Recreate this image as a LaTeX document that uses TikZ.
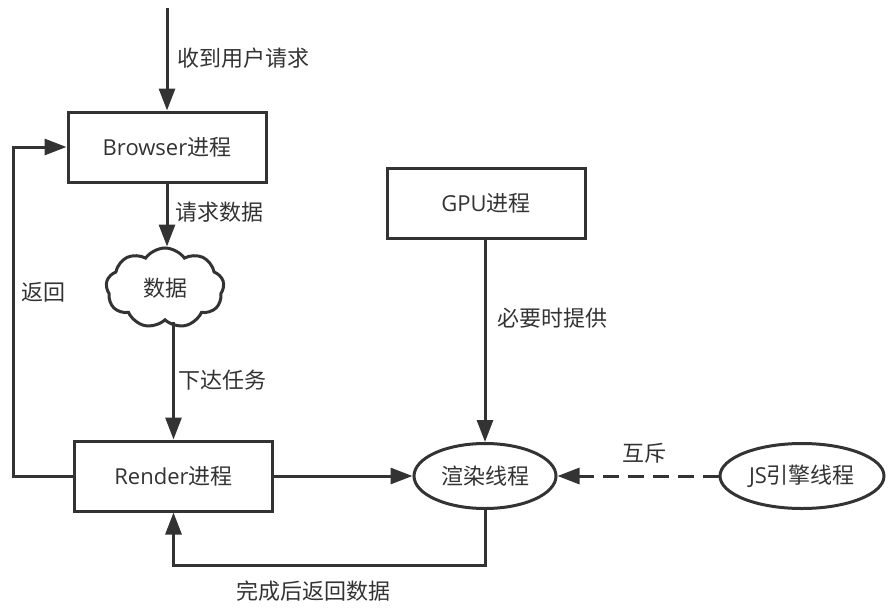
\documentclass[tikz,border=0pt]{standalone}
\usepackage{fontspec}
\setmainfont{Open Sans}
\newfontfamily\cjk{Noto Sans CJK SC}
\usetikzlibrary{arrows.meta,shapes.geometric,shapes.symbols}
\definecolor{inkgray}{HTML}{333333}
\newcommand\labsize{\fontsize{22pt}{26pt}\selectfont}
\tikzset{
	procbox/.style={draw=inkgray, line width=3pt, minimum width=198pt, minimum height=70pt, inner sep=0pt},
	thread/.style={draw=inkgray, line width=3pt, ellipse, inner sep=0pt, minimum height=65pt},
	flow/.style={draw=inkgray, line width=3pt, -{Triangle[length=22pt,width=16pt]}},
	note/.style={font=\cjk\labsize, inner sep=0pt},
}

\begin{document}
\begin{tikzpicture}[x=1pt, y=-1pt, color=inkgray, font=\labsize]
		%%%%% START %%%%%
		\useasboundingbox (0, 0) rectangle (890, 610);
		
		\node[procbox] (browser) at (167, 147) {Browser{\cjk 进程}};
		\node[procbox] (gpu) at (486, 203) {GPU{\cjk 进程}};
		\node[procbox] (render) at (173.5, 476) {Render{\cjk 进程}};
		\node[cloud, draw=inkgray, line width=3pt, cloud puffs=9, cloud puff arc=110, minimum width=118pt, minimum height=80pt, inner sep=0pt] (data) at (165, 288) {\cjk 数据};
		\node[thread, minimum width=142pt] (paint) at (485, 476) {\cjk 渲染线程};
		\node[thread, minimum width=164pt] (jseng) at (802, 476) {JS{\cjk 引擎线程}};
		
		\coordinate (entry) at (167, 8);
		\coordinate (loopl) at (13, 476);
		\coordinate (loopb) at (173.5, 565);
		
		\draw[flow] (entry) -- (browser.north);
		\draw[flow] (browser.south) -- (browser.south |- data.north);
		\draw[flow] (data.south -| render.north) -- (render.north);
		\draw[flow] (render) -- (paint);
		\draw[flow] (gpu.south -| paint.north) -- (paint.north);
		\draw[flow, dash pattern=on 16pt off 9pt] (jseng) -- (paint);
		\draw[flow] (paint.south) |- (loopb) -- (render.south);
		\draw[flow] (render.west) -- (loopl) |- (browser.west);
		
		\node[note, anchor=west] (lblask) at (177, 58) {收到用户请求};
		\node[note, anchor=west] (lblreq) at (175, 212) {请求数据};
		\node[note, anchor=west] (lbltask) at (178, 380) {下达任务};
		\node[note, anchor=west] (lblgpu) at (497, 318) {必要时提供};
		\node[note] (lblmutex) at (644, 453) {互斥};
		\node[note] (lblback) at (43.5, 292) {返回};
		\node[note] (lbldone) at (313, 591) {完成后返回数据};
		%%%%% END %%%%%
\end{tikzpicture}
\end{document}
